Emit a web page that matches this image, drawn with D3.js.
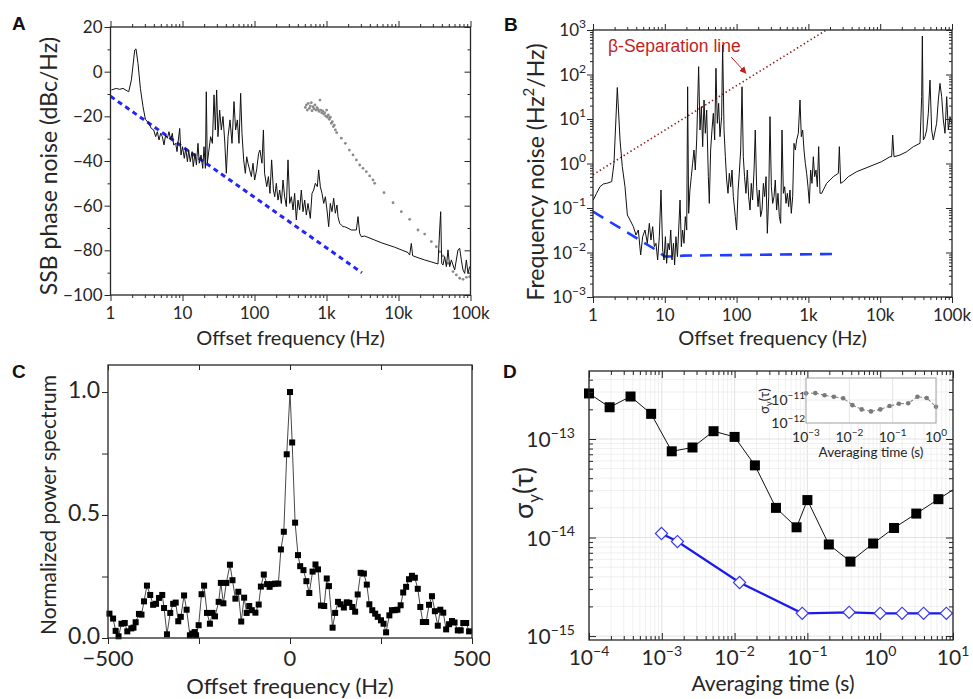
<!DOCTYPE html>
<html>
<head>
<meta charset="utf-8">
<script src="https://cdn.jsdelivr.net/npm/d3@7"></script>
<style>
  body { margin: 0; background: #fff; }
  svg { font-family: Lato, "Open Sans", "DejaVu Sans", sans-serif; }
</style>
</head>
<body>
<svg id="fig" width="973" height="699"></svg>
<script>
// ---------------- data ----------------
// A: SSB phase noise, [offset Hz, dBc/Hz]
const phaseNoise = [[1.03,-8.2],[1.2,-7.5],[1.34,-7.9],[1.49,-7.5],[1.79,-9.0],[1.95,-3.7],[2.17,9.7],[2.26,10.2],[2.41,3.7],[2.6,-7.5],[2.83,-15.7],[3.05,-21.3],[3.39,-23.1],[3.69,-25.4],[3.98,-26.1],[4.24,-29.1],[4.47,-26.9],[4.72,-30.6],[4.97,-27.6],[5.25,-29.1],[5.53,-32.8],[5.84,-28.3],[6.16,-29.8],[6.49,-26.9],[6.85,-30.6],[7.22,-27.6],[7.54,-32.8],[8.04,-32.1],[8.39,-35.8],[8.75,-30.6],[9.14,-25.4],[9.53,-37.3],[10.0,-33.6],[10.6,-38.8],[11.1,-34.3],[11.7,-40.3],[12.2,-35.1],[12.8,-40.3],[13.6,-35.8],[14.1,-42.5],[14.9,-36.6],[15.6,-41.8],[16.4,-32.1],[17.1,-41.0],[18.1,-37.3],[19.1,-43.3],[19.9,-33.6],[20.8,-43.3],[21.4,-9.0],[22.1,-41.0],[23.3,-35.1],[24.6,-29.1],[26.0,-32.1],[27.4,-10.4],[28.6,-26.1],[29.8,-8.2],[31.1,-29.1],[32.8,-17.2],[34.6,-26.1],[36.5,-20.1],[38.5,-30.6],[40.6,-45.5],[42.9,-29.1],[45.7,-21.6],[48.7,-32.1],[51.9,-13.4],[54.7,-26.1],[57.8,-21.6],[60.9,-32.1],[64.2,-9.7],[67.0,-27.6],[70.7,-39.5],[74.6,-45.5],[77.9,-38.1],[81.2,-41.0],[85.7,-44.0],[90.4,-47.0],[95.3,-41.0],[100.5,-48.5],[107,-44.0],[114,-36.6],[119,-35.1],[127,-41.0],[133,-26.1],[138,-45.5],[148,-51.5],[156,-47.0],[164,-54.5],[173,-39.5],[183,-53.0],[191,-56.0],[201,-50.0],[212,-57.5],[224,-53.0],[236,-59.0],[249,-48.5],[262,-56.0],[277,-60.4],[292,-39.5],[308,-59.0],[325,-56.0],[343,-61.9],[361,-54.5],[381,-66.4],[402,-57.5],[424,-61.9],[447,-53.0],[472,-62.7],[498,-57.5],[525,-64.2],[553,-59.0],[596,-65.7],[629,-54.5],[663,-53.0],[700,-50.0],[746,-51.5],[778,-44.0],[821,-51.5],[866,-54.5],[914,-59.0],[964,-56.0],[1016,-61.9],[1072,-69.4],[1130,-59.0],[1192,-62.7],[1258,-56.7],[1327,-63.4],[1399,-59.7],[1445,-64.9],[1523,-67.9],[1607,-68.7],[1695,-69.4],[1788,-69.4],[1990,-70.1],[2213,-70.9],[2597,-70.9],[2739,-64.9],[2889,-72.4],[3048,-73.9],[3390,-73.6],[3770,-74.2],[4666,-75.4],[5775,-76.6],[7147,-77.6],[8845,-78.6],[10950,-79.8],[13550,-81.0],[14290,-82.1],[15070,-76.9],[15730,-82.4],[18660,-83.3],[23090,-84.3],[28570,-85.2],[35360,-86.1],[37300,-70.9],[38540,-62.7],[39800,-85.8],[41500,-86.6],[43800,-82.8],[46200,-87.3],[48700,-79.8],[51400,-87.3],[54200,-84.3],[60300,-88.8],[67000,-79.8],[70800,-79.1],[74600,-84.3],[78700,-88.8],[83000,-90.3],[87600,-84.3],[92300,-90.3],[97300,-87.3]];
// A: free-running reference (grey dots)
const freeRunning = [[508,-16.0],[525,-14.9],[542,-17.2],[559,-14.2],[578,-16.4],[597,-15.4],[616,-13.9],[629,-17.5],[650,-15.7],[670,-16.6],[692,-14.9],[714,-17.2],[738,-16.1],[762,-16.9],[787,-17.8],[812,-12.7],[830,-17.2],[857,-18.4],[885,-17.6],[914,-19.0],[944,-18.4],[973,-19.8],[1005,-17.2],[1027,-20.4],[1060,-19.4],[1094,-21.3],[1130,-20.4],[1167,-23.1],[1205,-22.4],[1244,-24.6],[1285,-23.9],[1327,-26.1],[1384,-27.3],[1607,-29.8],[1828,-32.1],[2076,-35.1],[2335,-37.3],[2597,-39.5],[2889,-41.8],[3213,-43.3],[3573,-44.8],[3981,-46.7],[4426,-48.5],[4666,-50.0],[6295,-54.2],[8395,-58.7],[10950,-62.7],[14290,-66.1],[18660,-70.9],[23090,-72.7],[28570,-76.1],[33500,-78.4],[37300,-80.6],[41500,-82.5],[48700,-85.8],[57150,-89.5],[63500,-91.0],[70800,-92.5],[78700,-93.0],[87600,-92.1],[97300,-91.8]];
// A: blue dashed guide
const phaseGuide = [[1,-11],[3100,-90]];

// B: frequency noise, [offset Hz, Hz^2/Hz]
const freqNoise = [[1.01,0.151],[1.12,0.214],[1.25,0.301],[1.39,0.346],[1.55,0.358],[1.82,0.391],[1.96,1.01],[2.18,51],[2.38,3.37],[2.56,0.849],[2.79,0.301],[3.01,0.0696],[3.28,0.0537],[3.65,0.0381],[3.97,0.0247],[4.28,0.032],[4.61,0.00879],[4.92,0.0227],[5.30,0.032],[5.71,0.0161],[6.09,0.0452],[6.42,0.0191],[6.78,0.0381],[7.15,0.0135],[7.54,0.0161],[7.95,0.00678],[8.39,0.0227],[8.85,0.254],[9.34,0.0114],[9.75,0.00678],[10.2,0.0227],[10.6,0.00571],[11.1,0.0161],[11.6,0.0114],[12.1,0.032],[12.6,0.00678],[13.2,0.0161],[13.7,0.00524],[14.3,0.0227],[15.0,0.00806],[15.6,0.032],[16.3,0.151],[17.0,0.0135],[17.7,0.032],[18.5,0.0161],[19.3,0.0639],[20.2,0.032],[20.8,53],[21.5,0.0759],[22.4,0.254],[23.4,0.506],[24.4,1.01],[25.5,2.01],[26.6,0.714],[27.8,3.37],[29.6,150],[30.9,5.66],[32.3,18.9],[33.7,2.39],[35.2,26.7],[36.7,4.77],[38.3,15.9],[40.4,0.506],[41.7,0.127],[43.5,2.01],[45.4,5.66],[47.4,13.4],[49.5,3.37],[51.6,138],[53.9,8.0],[56.2,22.5],[58.7,4.01],[61.9,11.3],[63.9,460],[66.8,5.66],[69.7,1.42],[72.7,0.426],[75.9,0.214],[79.2,0.601],[82.7,0.301],[86.3,0.714],[90.1,0.180],[96.0,0.0639],[100,0.032],[105,0.254],[109,0.601],[114,2.01],[119,53],[124,1.42],[129,0.506],[135,0.214],[141,0.714],[147,0.180],[154,0.090],[160,0.358],[167,0.151],[175,0.714],[182,5.66],[190,0.301],[199,0.107],[207,0.254],[216,0.0639],[226,0.090],[236,0.358],[246,0.180],[257,0.506],[268,0.027],[280,0.180],[292,11.3],[305,0.301],[318,0.127],[332,0.180],[346,0.426],[361,0.090],[377,0.214],[394,0.0639],[411,0.0452],[429,5.66],[448,0.214],[467,0.301],[488,0.127],[509,0.214],[531,0.107],[554,0.254],[578,0.0759],[604,0.180],[630,2.84],[658,2.01],[686,3.37],[724,4.77],[764,26.7],[797,4.01],[832,5.66],[868,2.01],[906,1.01],[946,0.601],[987,0.301],[1030,0.127],[1075,0.714],[1122,0.358],[1171,1.42],[1222,0.506],[1276,0.714],[1332,0.301],[1390,2.39],[1451,0.214],[1530,0.214],[1613,0.254],[1701,0.301],[1794,0.358],[1998,0.426],[2224,0.506],[2612,0.601],[2697,2.39],[2814,0.358],[3068,0.391],[3600,0.506],[4702,0.655],[6142,0.778],[8021,0.925],[10470,1.10],[13680,1.42],[14440,1.42],[14920,4.37],[15570,1.42],[18870,1.55],[23390,1.84],[28950,2.39],[35850,2.84],[37820,31.8],[38650,733],[39900,3.37],[42090,4.01],[44400,5.66],[46800,13.4],[49400,75],[52100,5.66],[54900,3.37],[61100,8.0],[64500,26.7],[68000,63],[71800,31.8],[75700,9.5],[79900,4.77],[84300,31.8],[88900,5.66],[93800,11.3],[98900,8.0]];
const betaLine = [[1,0.56],[1780,1000]];
const freqGuide = [[1,0.083],[7.7,0.0112],[10,0.0081],[14,0.0081],[18,0.0085],[2600,0.0093]];
const betaArrow = [[84,247],[135,107]];
const betaLabelAt = [1.62, 316];

// C: normalized power spectrum, [offset Hz, value]
const beatSpectrum = [[-496,0.099],[-486,0.079],[-479,0.029],[-471,0.007],[-463,0.058],[-454,0.061],[-447,0.027],[-436,0.039],[-430,0.042],[-424,0.064],[-415,0.098],[-408,0.095],[-401,0.149],[-393,0.213],[-384,0.175],[-376,0.135],[-368,0.139],[-360,0.163],[-351,0.175],[-346,0.122],[-338,0.015],[-329,0.102],[-321,0.139],[-314,0.144],[-307,0.068],[-300,0.086],[-291,0.173],[-284,0.115],[-275,0.011],[-268,0.018],[-262,0.024],[-258,0.011],[-251,0.052],[-243,0.178],[-236,0.213],[-228,0.102],[-220,0.058],[-213,0.102],[-206,0.088],[-196,0.147],[-190,0.224],[-183,0.141],[-175,0.224],[-165,0.298],[-158,0.235],[-150,0.160],[-142,0.188],[-134,0.067],[-126,0.164],[-119,0.102],[-112,0.130],[-105,0.113],[-95,0.103],[-86,0.136],[-80,0.209],[-72,0.258],[-63,0.219],[-56,0.208],[-49,0.219],[-41,0.221],[-32,0.221],[-25,0.360],[-17,0.432],[-9,0.747],[0,1.0],[6,0.795],[14,0.469],[22,0.337],[28,0.292],[37,0.276],[45,0.231],[53,0.183],[62,0.270],[70,0.299],[77,0.279],[85,0.132],[94,0.130],[101,0.242],[107,0.211],[117,0.042],[124,0.102],[132,0.147],[139,0.137],[148,0.124],[156,0.145],[163,0.143],[171,0.126],[179,0.107],[186,0.177],[194,0.265],[203,0.262],[211,0.217],[218,0.137],[226,0.113],[234,0.099],[241,0.086],[250,0.072],[257,0.058],[264,0.023],[273,0.092],[280,0.113],[288,0.113],[295,0.115],[304,0.133],[311,0.185],[319,0.208],[327,0.239],[335,0.253],[343,0.245],[351,0.200],[358,0.126],[365,0.065],[374,0.065],[382,0.135],[390,0.170],[398,0.109],[406,0.050],[413,0.115],[421,0.103],[429,0.035],[437,0.056],[445,0.069],[452,0.063],[461,0.031],[469,0.031],[476,0.061],[484,0.061],[492,0.027]];

// D: Allan deviation, [tau s, sigma_y]
const allanBeat = [[1.0e-4,2.9e-13],[1.92e-4,2.1e-13],[3.72e-4,2.7e-13],[7.14e-4,1.8e-13],[1.37e-3,7.5e-14],[2.64e-3,8.2e-14],[5.14e-3,1.2e-13],[1.0e-2,1.05e-13],[1.9e-2,5.4e-14],[3.7e-2,2.0e-14],[7.1e-2,1.27e-14],[0.1,2.4e-14],[0.197,8.5e-15],[0.39,5.7e-15],[0.80,8.7e-15],[1.55,1.25e-14],[3.13,1.75e-14],[6.3,2.45e-14],[12.6,3.4e-14]];
const allanLocked = [[9.9e-4,1.1e-14],[1.64e-3,9.1e-15],[1.17e-2,3.5e-15],[8.5e-2,1.7e-15],[0.374,1.74e-15],[1.0,1.7e-15],[2.0,1.7e-15],[3.95,1.7e-15],[8.1,1.7e-15]];
const allanInset = [[1e-3,1.95e-11],[1.64e-3,2.0e-11],[2.68e-3,1.62e-11],[4.39e-3,1.38e-11],[7.2e-3,1.2e-11],[1.18e-2,6.0e-12],[1.93e-2,3.9e-12],[3.16e-2,3.2e-12],[5.18e-2,3.9e-12],[8.48e-2,5.5e-12],[0.139,6.9e-12],[0.228,7.2e-12],[0.373,1.38e-11],[0.611,1.23e-11],[1.0,5.1e-12]];

// tick values / labels
const freqTicks = [1, 10, 100, 1e3, 1e4, 1e5];
const freqTickLabels = ["1", "10", "100", "1k", "10k", "100k"];
const dbTicks = [20, 0, -20, -40, -60, -80, -100];
const dbMinor = [10, -10, -30, -50, -70, -90];
const snuTicks = [1e-3, 1e-2, 1e-1, 1, 10, 100, 1000];
const cTicksX = [-500, -250, 0, 250, 500];
const cLabelsX = [-500, 0, 500];
const cTicksY = [0, 0.25, 0.5, 0.75, 1.0];
const cLabelsY = [0, 0.5, 1.0];
const tauTicks = [1e-4, 1e-3, 1e-2, 1e-1, 1, 10];
const sigmaTicks = [1e-15, 1e-14, 1e-13];
const insetTauTicks = [1e-3, 1e-2, 1e-1, 1];
const insetSigmaTicks = [1e-12, 1e-11];

// ---------------- helpers ----------------
const svg = d3.select('#fig');
const INK = '#262626';
const minus = v => String(v).replace('-', '\u2212');

function minorLog(e0, e1) {
  const v = [];
  for (let e = e0; e < e1; e++) for (let m = 2; m < 10; m++) v.push(m * Math.pow(10, e));
  return v;
}
function tickLines(g, axis, vals, size, tr, color) {
  g.append('g').attr('transform', tr)
    .call(axis.tickValues(vals).tickSize(size).tickSizeOuter(0).tickFormat(''))
    .call(s => s.select('.domain').remove())
    .selectAll('line').attr('stroke', color || INK).attr('stroke-width', 1);
}
function frame(g, r, color, w) {
  g.append('rect').attr('x', r.x0).attr('y', r.y0)
    .attr('width', r.x1 - r.x0).attr('height', r.y1 - r.y0)
    .attr('fill', 'none').attr('stroke', color || INK).attr('stroke-width', w || 1.3);
}
function clipRect(id, r) {
  svg.append('clipPath').attr('id', id).append('rect')
    .attr('x', r.x0).attr('y', r.y0).attr('width', r.x1 - r.x0).attr('height', r.y1 - r.y0);
}
function powText(g, x, y, v, fs, fsSup, anchor) {
  const e = Math.round(Math.log10(v));
  const t = g.append('text').attr('x', x).attr('y', y)
    .attr('text-anchor', anchor).attr('font-size', fs).attr('fill', INK);
  t.append('tspan').text('10');
  t.append('tspan').attr('font-size', fsSup).attr('dy', -fs * 0.45).text(minus(e));
  return t;
}
function letter(t, x, y) {
  svg.append('text').attr('x', x).attr('y', y).text(t)
    .attr('font-family', '"Liberation Sans", Arial, sans-serif')
    .attr('font-weight', 'bold').attr('font-size', 19).attr('fill', '#111');
}

// ---------------- panel A ----------------
const rA = {x0: 110.5, x1: 470.5, y0: 27, y1: 295};
const xA = d3.scaleLog().domain([1, 1e5]).range([rA.x0, rA.x1]);
const yA = d3.scaleLinear().domain([-100, 20]).range([rA.y1, rA.y0]);
const gA = svg.append('g');
clipRect('clipA', rA);
const pA = gA.append('g').attr('clip-path', 'url(#clipA)');
const lineA = d3.line().x(d => xA(d[0])).y(d => yA(d[1]));

pA.selectAll('circle.free').data(freeRunning).join('circle').attr('class', 'free')
  .attr('cx', d => xA(d[0])).attr('cy', d => yA(d[1])).attr('r', 1.4).attr('fill', '#8a8a8a');
pA.append('path').datum(phaseGuide).attr('d', lineA)
  .attr('fill', 'none').attr('stroke', '#2424ff').attr('stroke-width', 3).attr('stroke-dasharray', '5,4');
pA.append('path').datum(phaseNoise).attr('d', lineA)
  .attr('fill', 'none').attr('stroke', '#111').attr('stroke-width', 1).attr('stroke-linejoin', 'round');

tickLines(gA, d3.axisBottom(xA), freqTicks, 6, `translate(0,${rA.y1})`);
tickLines(gA, d3.axisBottom(xA), minorLog(0, 5), 3, `translate(0,${rA.y1})`);
tickLines(gA, d3.axisTop(xA), freqTicks, 6, `translate(0,${rA.y0})`);
tickLines(gA, d3.axisTop(xA), minorLog(0, 5), 3, `translate(0,${rA.y0})`);
tickLines(gA, d3.axisLeft(yA), dbTicks, 6, `translate(${rA.x0},0)`);
tickLines(gA, d3.axisLeft(yA), dbMinor, 3, `translate(${rA.x0},0)`);
tickLines(gA, d3.axisRight(yA), dbTicks, -6, `translate(${rA.x1},0)`);
tickLines(gA, d3.axisRight(yA), dbMinor, -3, `translate(${rA.x1},0)`);
frame(gA, rA);

gA.selectAll('text.xl').data(freqTicks).join('text').attr('class', 'xl')
  .attr('x', d => xA(d)).attr('y', rA.y1 + 24).attr('text-anchor', 'middle')
  .attr('font-size', 17).attr('fill', INK).text((d, i) => freqTickLabels[i]);
gA.selectAll('text.yl').data(dbTicks).join('text').attr('class', 'yl')
  .attr('x', rA.x0 - 8).attr('y', d => yA(d)).attr('dy', '0.36em').attr('text-anchor', 'end')
  .attr('font-size', 17).attr('fill', INK).text(d => minus(d));
gA.append('text').attr('x', (rA.x0 + rA.x1) / 2).attr('y', 345).attr('text-anchor', 'middle')
  .attr('font-size', 20).attr('fill', INK).text('Offset frequency (Hz)');
gA.append('text').attr('transform', 'translate(57,166) rotate(-90)').attr('text-anchor', 'middle')
  .attr('font-size', 23).attr('fill', INK).text('SSB phase noise (dBc/Hz)');

// ---------------- panel B ----------------
const rB = {x0: 593, x1: 952, y0: 30, y1: 297};
const xB = d3.scaleLog().domain([1, 1e5]).range([rB.x0, rB.x1]);
const yB = d3.scaleLog().domain([1e-3, 1e3]).range([rB.y1, rB.y0]);
const gB = svg.append('g');
clipRect('clipB', rB);
const pB = gB.append('g').attr('clip-path', 'url(#clipB)');
const lineB = d3.line().x(d => xB(d[0])).y(d => yB(d[1]));

pB.append('path').datum(betaLine).attr('d', lineB)
  .attr('fill', 'none').attr('stroke', '#8e1c1c').attr('stroke-width', 1.6).attr('stroke-dasharray', '1.4,2.6');
pB.append('path').datum(freqGuide).attr('d', lineB)
  .attr('fill', 'none').attr('stroke', '#1f3dff').attr('stroke-width', 2.6).attr('stroke-dasharray', '12,8');
pB.append('path').datum(freqNoise).attr('d', lineB)
  .attr('fill', 'none').attr('stroke', '#111').attr('stroke-width', 1).attr('stroke-linejoin', 'round');

svg.append('defs').append('marker').attr('id', 'arrowRed')
  .attr('viewBox', '0 0 10 10').attr('refX', 9).attr('refY', 5)
  .attr('markerWidth', 7).attr('markerHeight', 7).attr('orient', 'auto')
  .append('path').attr('d', 'M0,0 L10,5 L0,10 z').attr('fill', '#c41e1e');
gB.append('path').datum(betaArrow).attr('d', lineB)
  .attr('stroke', '#c41e1e').attr('stroke-width', 1).attr('fill', 'none').attr('marker-end', 'url(#arrowRed)');
gB.append('text').attr('x', xB(betaLabelAt[0])).attr('y', yB(betaLabelAt[1]))
  .attr('font-family', '"Liberation Sans", Arial, sans-serif')
  .attr('font-size', 17.5).attr('fill', '#c41e1e').text('\u03b2-Separation line');

tickLines(gB, d3.axisBottom(xB), freqTicks, 6, `translate(0,${rB.y1})`);
tickLines(gB, d3.axisBottom(xB), minorLog(0, 5), 3, `translate(0,${rB.y1})`);
tickLines(gB, d3.axisTop(xB), freqTicks, 6, `translate(0,${rB.y0})`);
tickLines(gB, d3.axisTop(xB), minorLog(0, 5), 3, `translate(0,${rB.y0})`);
tickLines(gB, d3.axisLeft(yB), snuTicks, 6, `translate(${rB.x0},0)`);
tickLines(gB, d3.axisLeft(yB), minorLog(-3, 3), 3, `translate(${rB.x0},0)`);
tickLines(gB, d3.axisRight(yB), snuTicks, -6, `translate(${rB.x1},0)`);
tickLines(gB, d3.axisRight(yB), minorLog(-3, 3), -3, `translate(${rB.x1},0)`);
frame(gB, rB);

gB.selectAll('text.xl').data(freqTicks).join('text').attr('class', 'xl')
  .attr('x', d => xB(d)).attr('y', rB.y1 + 24).attr('text-anchor', 'middle')
  .attr('font-size', 17).attr('fill', INK).text((d, i) => freqTickLabels[i]);
snuTicks.forEach(v => powText(gB, rB.x0 - 7, yB(v) + 6, v, 17, 12, 'end'));
gB.append('text').attr('x', (rB.x0 + rB.x1) / 2).attr('y', 345).attr('text-anchor', 'middle')
  .attr('font-size', 20).attr('fill', INK).text('Offset frequency (Hz)');
const tB = gB.append('text').attr('transform', 'translate(544,172) rotate(-90)').attr('text-anchor', 'middle')
  .attr('font-size', 23).attr('fill', INK);
tB.append('tspan').text('Frequency noise (Hz');
tB.append('tspan').attr('font-size', 15).attr('dy', -10).text('2');
tB.append('tspan').attr('dy', 10).text('/Hz)');

// ---------------- panel C ----------------
const rC = {x0: 108, x1: 472, y0: 365, y1: 638};
const xC = d3.scaleLinear().domain([-500, 500]).range([rC.x0, rC.x1]);
const yC = d3.scaleLinear().domain([0, 1.11]).range([rC.y1, rC.y0]);
const gC = svg.append('g');

gC.append('path').datum(beatSpectrum)
  .attr('d', d3.line().x(d => xC(d[0])).y(d => yC(d[1])))
  .attr('fill', 'none').attr('stroke', '#333').attr('stroke-width', 0.9);
gC.selectAll('rect.pt').data(beatSpectrum).join('rect').attr('class', 'pt')
  .attr('x', d => xC(d[0]) - 3).attr('y', d => yC(d[1]) - 3)
  .attr('width', 6).attr('height', 6).attr('fill', '#000');

tickLines(gC, d3.axisBottom(xC), cTicksX, 6, `translate(0,${rC.y1})`);
tickLines(gC, d3.axisTop(xC), cTicksX, -5, `translate(0,${rC.y0})`);
tickLines(gC, d3.axisLeft(yC), cTicksY, 6, `translate(${rC.x0},0)`);
frame(gC, rC);

gC.selectAll('text.xl').data(cLabelsX).join('text').attr('class', 'xl')
  .attr('x', d => xC(d)).attr('y', rC.y1 + 28).attr('text-anchor', 'middle')
  .attr('font-size', 22).attr('fill', INK).text(d => minus(d));
gC.selectAll('text.yl').data(cLabelsY).join('text').attr('class', 'yl')
  .attr('x', rC.x0 - 8).attr('y', d => yC(d)).attr('dy', '0.25em').attr('text-anchor', 'end')
  .attr('font-size', 23).attr('fill', INK).text(d => d.toFixed(1));
gC.append('text').attr('x', (rC.x0 + rC.x1) / 2).attr('y', 694).attr('text-anchor', 'middle')
  .attr('font-size', 22).attr('fill', INK).text('Offset frequency (Hz)');
gC.append('text').attr('transform', 'translate(56,505) rotate(-90)').attr('text-anchor', 'middle')
  .attr('font-size', 21).attr('fill', INK).text('Normalized power spectrum');

// ---------------- panel D ----------------
// the right edge of C's last tick label is hidden under panel D in the original
svg.append('rect').attr('x', 490).attr('y', 645).attr('width', 24).attr('height', 54).attr('fill', '#fff');
const rD = {x0: 589, x1: 953, y0: 371, y1: 640};
const xD = d3.scaleLog().domain([1e-4, 10]).range([rD.x0, rD.x1]);
const yD = d3.scaleLog().domain([9.12e-16, 4.9e-13]).range([rD.y1, rD.y0]);
const gD = svg.append('g');
clipRect('clipD', rD);

const gridX = minorLog(-4, 1).concat(tauTicks);
const gridY = minorLog(-16, -12).concat(sigmaTicks).filter(v => v > yD.domain()[0] && v < yD.domain()[1]);
gD.selectAll('line.gx').data(gridX).join('line').attr('class', 'gx')
  .attr('x1', d => xD(d)).attr('x2', d => xD(d)).attr('y1', rD.y0).attr('y2', rD.y1)
  .attr('stroke', d => tauTicks.includes(d) ? '#d9d9d9' : '#ececec').attr('stroke-width', 0.8);
gD.selectAll('line.gy').data(gridY).join('line').attr('class', 'gy')
  .attr('y1', d => yD(d)).attr('y2', d => yD(d)).attr('x1', rD.x0).attr('x2', rD.x1)
  .attr('stroke', d => sigmaTicks.includes(d) ? '#d9d9d9' : '#ececec').attr('stroke-width', 0.8);

const lineD = d3.line().x(d => xD(d[0])).y(d => yD(d[1]));
gD.append('path').datum(allanBeat).attr('d', lineD).attr('clip-path', 'url(#clipD)')
  .attr('fill', 'none').attr('stroke', '#111').attr('stroke-width', 1);
gD.selectAll('rect.sq').data(allanBeat.filter(d => d[0] <= 10)).join('rect').attr('class', 'sq')
  .attr('x', d => xD(d[0]) - 5).attr('y', d => yD(d[1]) - 5)
  .attr('width', 10).attr('height', 10).attr('fill', '#000');
gD.append('path').datum(allanLocked).attr('d', lineD)
  .attr('fill', 'none').attr('stroke', '#1a1aee').attr('stroke-width', 2.2);
gD.selectAll('path.dm').data(allanLocked).join('path').attr('class', 'dm')
  .attr('d', d3.symbol(d3.symbolSquare, 74))
  .attr('transform', d => `translate(${xD(d[0])},${yD(d[1])}) rotate(45)`)
  .attr('fill', '#fff').attr('stroke', '#3a3ae8').attr('stroke-width', 1.2);

tickLines(gD, d3.axisBottom(xD), tauTicks, -7, `translate(0,${rD.y1})`);
tickLines(gD, d3.axisBottom(xD), minorLog(-4, 1), -4, `translate(0,${rD.y1})`);
tickLines(gD, d3.axisTop(xD), tauTicks, -7, `translate(0,${rD.y0})`);
tickLines(gD, d3.axisTop(xD), minorLog(-4, 1), -4, `translate(0,${rD.y0})`);
const yMinorD = minorLog(-16, -12).filter(v => v > yD.domain()[0] && v < yD.domain()[1]);
tickLines(gD, d3.axisLeft(yD), sigmaTicks, -7, `translate(${rD.x0},0)`);
tickLines(gD, d3.axisLeft(yD), yMinorD, -4, `translate(${rD.x0},0)`);
tickLines(gD, d3.axisRight(yD), sigmaTicks, -7, `translate(${rD.x1},0)`);
tickLines(gD, d3.axisRight(yD), yMinorD, -4, `translate(${rD.x1},0)`);
frame(gD, rD);

tauTicks.forEach(v => powText(gD, xD(v), 665, v, 21, 14, 'middle'));
sigmaTicks.forEach(v => powText(gD, rD.x0 - 14, yD(v) + 8, v, 21, 14, 'end'));
gD.append('text').attr('x', (rD.x0 + rD.x1) / 2 + 2).attr('y', 691).attr('text-anchor', 'middle')
  .attr('font-size', 21).attr('fill', INK).text('Averaging time (s)');
const tD = gD.append('text').attr('transform', 'translate(533,493) rotate(-90)').attr('text-anchor', 'middle')
  .attr('font-size', 27).attr('fill', INK);
tD.append('tspan').text('\u03c3');
tD.append('tspan').attr('font-size', 17).attr('dy', 7).text('y');
tD.append('tspan').attr('dy', -7).text('(\u03c4)');

// inset
const rI = {x0: 806, x1: 936, y0: 378, y1: 423};
const xI = d3.scaleLog().domain([1e-3, 1]).range([rI.x0, rI.x1]);
const yI = d3.scaleLog().domain([1e-12, 9.1e-11]).range([rI.y1, rI.y0]);
const gI = svg.append('g');
gI.append('rect').attr('x', rI.x0).attr('y', rI.y0).attr('width', rI.x1 - rI.x0).attr('height', rI.y1 - rI.y0).attr('fill', '#fff');
gI.selectAll('line.ig').data([1e-2, 1e-1]).join('line').attr('class', 'ig')
  .attr('x1', d => xI(d)).attr('x2', d => xI(d)).attr('y1', rI.y0).attr('y2', rI.y1)
  .attr('stroke', '#dcdcdc').attr('stroke-width', 0.8);
gI.append('line').attr('x1', rI.x0).attr('x2', rI.x1).attr('y1', yI(1e-11)).attr('y2', yI(1e-11))
  .attr('stroke', '#e6e6e6').attr('stroke-width', 0.8);
const lineI = d3.line().x(d => xI(d[0])).y(d => yI(d[1]));
gI.append('path').datum(allanInset).attr('d', lineI)
  .attr('fill', 'none').attr('stroke', '#8a8a8a').attr('stroke-width', 1.1).attr('stroke-dasharray', '3,2');
gI.selectAll('circle.ip').data(allanInset).join('circle').attr('class', 'ip')
  .attr('cx', d => xI(d[0])).attr('cy', d => yI(d[1])).attr('r', 2.3).attr('fill', '#7a7a7a');
frame(gI, rI, '#a0a0a0', 1);
insetTauTicks.forEach(v => powText(gI, xI(v), 442, v, 14, 10, 'middle'));
insetSigmaTicks.forEach(v => powText(gI, rI.x0 - 1, yI(v) + 5, v, 14, 10, 'end'));
gI.append('text').attr('x', (rI.x0 + rI.x1) / 2).attr('y', 457).attr('text-anchor', 'middle')
  .attr('font-size', 13.5).attr('fill', INK).text('Averaging time (s)');
const tI = gI.append('text').attr('transform', 'translate(769,401) rotate(-90)').attr('text-anchor', 'middle')
  .attr('font-size', 13).attr('fill', INK);
tI.append('tspan').text('\u03c3');
tI.append('tspan').attr('font-size', 9).attr('dy', 3).text('y');
tI.append('tspan').attr('dy', -3).text('(\u03c4)');

// panel letters
letter('A', 12, 30);
letter('B', 504, 31);
letter('C', 12, 378);
letter('D', 503, 378);
</script>
</body>
</html>
